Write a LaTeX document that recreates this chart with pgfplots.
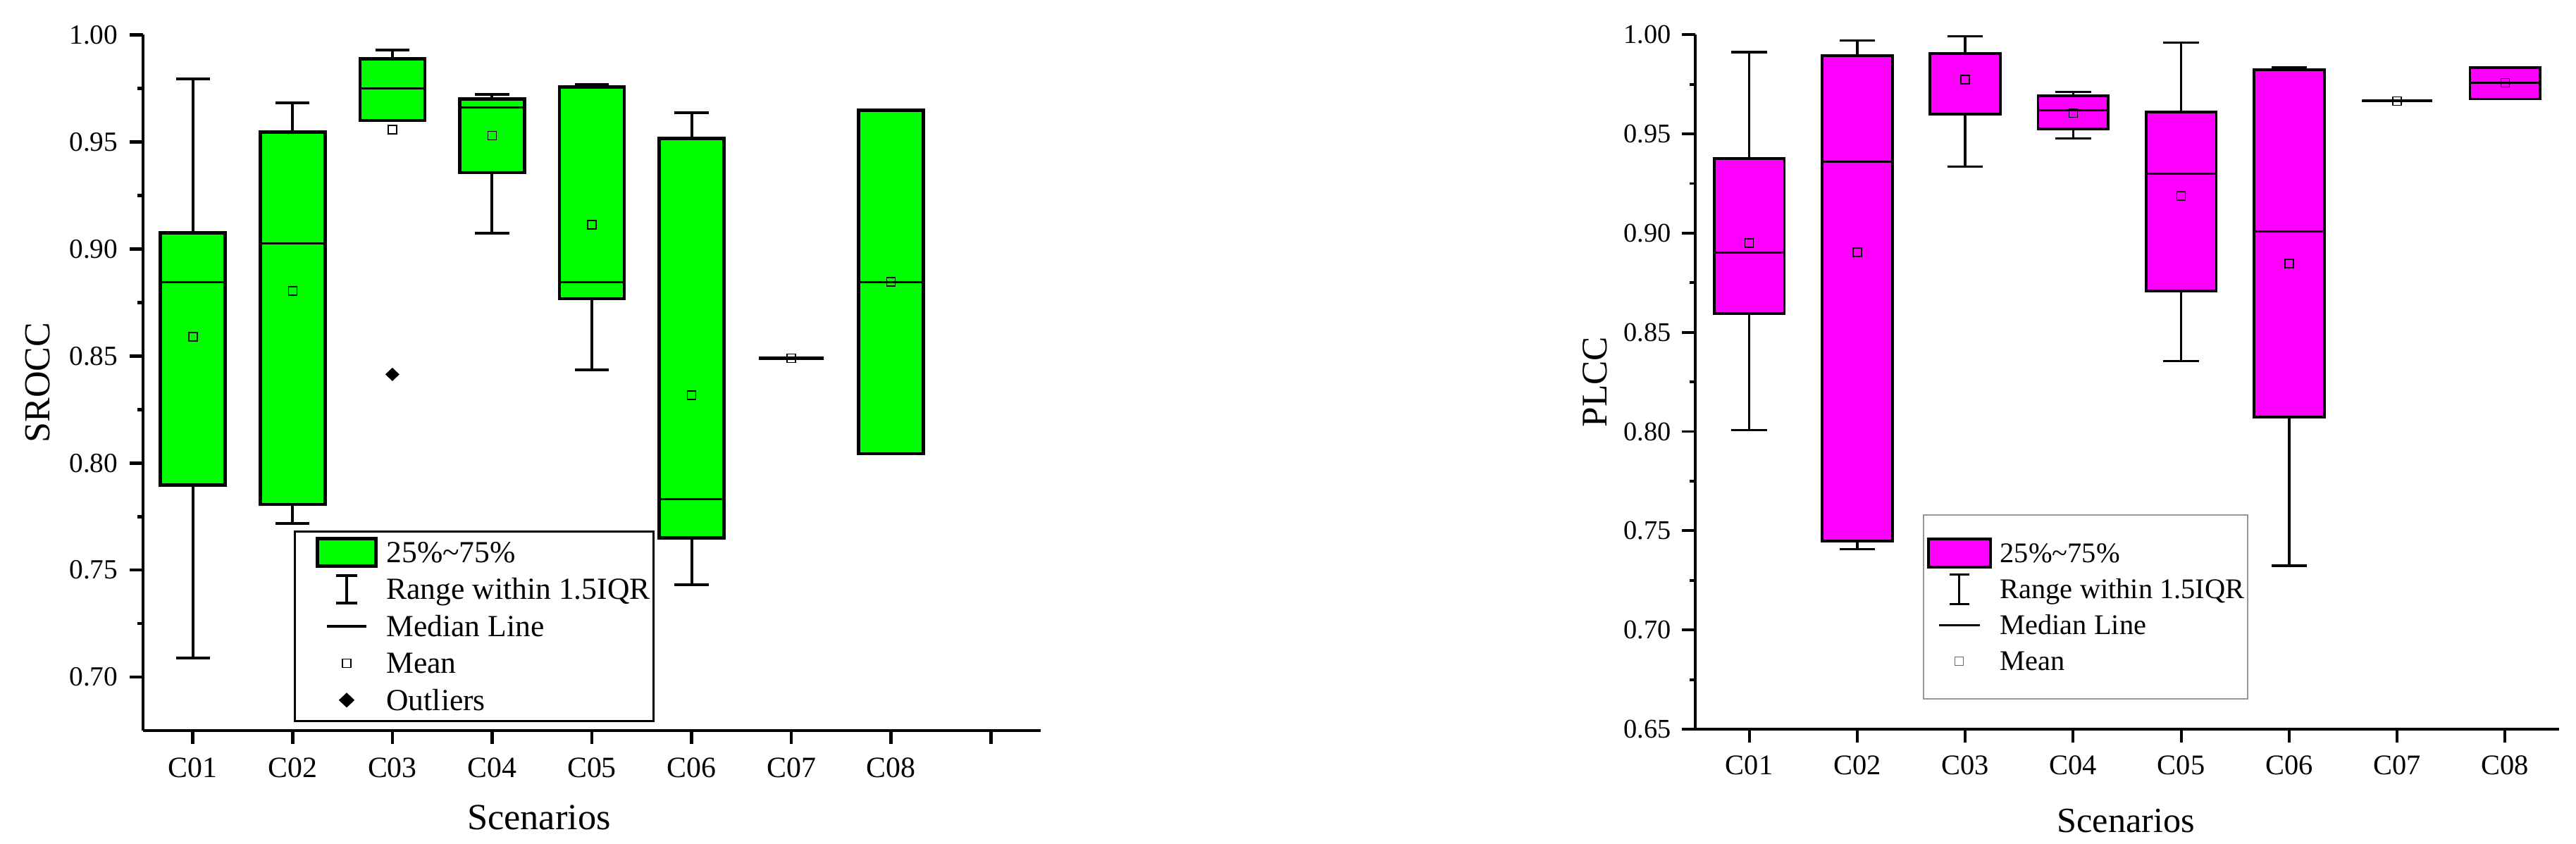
\documentclass[border=0pt]{standalone}
\usepackage{fontspec}
\setmainfont{Liberation Serif}
\usepackage{pgfplots}
\pgfplotsset{compat=1.18}
\usepgfplotslibrary{statistics}
\definecolor{boxgreen}{RGB}{0,255,0}
\definecolor{boxmag}{RGB}{255,0,255}
\definecolor{leggray}{RGB}{150,150,150}
\newcommand{\fs}[1]{\fontsize{#1}{#1}\selectfont}

\begin{document}
\begin{tikzpicture}
\useasboundingbox (0,0) rectangle (365.6mm,119.7mm);

% ---------------- Left: SROCC ----------------
\begin{axis}[
  at={(20.3mm,16.0mm)}, anchor=south west,
  scale only axis, width=127.4mm, height=98.75mm,
  xmin=0.5, xmax=9.5, ymin=0.675, ymax=1.0,
  clip=false,
  axis lines=left, axis line style={-, line width=0.47mm},
  tick align=outside, major tick length=1.9mm, minor tick length=0.8mm,
  every tick/.style={line width=0.47mm, black},
  xtick={1,2,3,4,5,6,7,8,9},
  xticklabels={C01,C02,C03,C04,C05,C06,C07,C08,{}},
  minor xtick={},
  ytick={0.70,0.75,0.80,0.85,0.90,0.95,1.00},
  minor ytick={0.725,0.775,0.825,0.875,0.925,0.975},
  /pgf/number format/assume math mode=true,
  yticklabel style={/pgf/number format/fixed, /pgf/number format/fixed zerofill, /pgf/number format/precision=2, font=\fs{11.2pt}, inner sep=0pt},
  xticklabel style={font=\fs{11.9pt}, inner sep=0pt},
  xticklabel shift=1.9mm, yticklabel shift=1.6mm,
  xlabel={Scenarios}, ylabel={SROCC},
  every axis x label/.style={at={(axis description cs:0.4411,-0.1418)}, anchor=base, inner sep=0pt, font=\fs{14.9pt}},
  every axis y label/.style={at={(axis description cs:-0.1313,0.5)}, rotate=90, anchor=north, inner sep=0pt, font=\fs{14.8pt}},
  boxplot/draw direction=y,
  boxplot/box extend=0.65, boxplot/whisker extend=0.34,
  boxplot/every box/.style={draw=black, line width=0.46mm, fill=boxgreen},
  boxplot/every whisker/.style={black, line width=0.4mm},
  boxplot/every median/.style={black, line width=0.32mm},
  legend cell align=left,
  legend style={at={(axis description cs:0.168,0.2876)}, anchor=north west, draw=black, line width=0.3mm, fill=white,
    inner xsep=0.5mm, inner ysep=0.73mm, row sep=0.85mm,
    nodes={inner sep=0pt, draw=none, text height=3.64mm, text depth=0.76mm, font=\fs{12.4pt}}},
]
\addplot[boxplot prepared={lower whisker=0.7090, lower quartile=0.7897, median=0.8844, upper quartile=0.9075, upper whisker=0.9794, draw position=1}, forget plot] coordinates {};
\addplot[boxplot prepared={lower whisker=0.7719, lower quartile=0.7807, median=0.9027, upper quartile=0.9545, upper whisker=0.9683, draw position=2}, forget plot] coordinates {};
\addplot[boxplot prepared={lower whisker=0.9600, lower quartile=0.9600, median=0.9751, upper quartile=0.9889, upper whisker=0.9929, draw position=3}, mark=diamond*, mark size=0.85mm, mark options={fill=black, draw=black, xscale=1.4}, forget plot] coordinates {(3,0.8414)};
\addplot[boxplot prepared={lower whisker=0.9075, lower quartile=0.9357, median=0.9660, upper quartile=0.9701, upper whisker=0.9721, draw position=4}, forget plot] coordinates {};
\addplot[boxplot prepared={lower whisker=0.8434, lower quartile=0.8768, median=0.8844, upper quartile=0.9756, upper whisker=0.9769, draw position=5}, forget plot] coordinates {};
\addplot[boxplot prepared={lower whisker=0.7432, lower quartile=0.7651, median=0.7832, upper quartile=0.9517, upper whisker=0.9635, draw position=6}, forget plot] coordinates {};
\addplot[boxplot prepared={lower whisker=0.8490, lower quartile=0.8490, median=0.8490, upper quartile=0.8490, upper whisker=0.8490, draw position=7}, forget plot] coordinates {};
\addplot[boxplot prepared={lower whisker=0.8043, lower quartile=0.8043, median=0.8846, upper quartile=0.9648, upper whisker=0.9648, draw position=8}, forget plot] coordinates {};
% means
\addplot[only marks, mark=square, mark size=0.6mm, mark options={draw=black, line width=0.16mm}, forget plot]
  coordinates {(1,0.8590) (2,0.8804) (3,0.9557) (4,0.9530) (5,0.9113) (6,0.8317) (7,0.8490) (8,0.8846)};

\addlegendimage{legend image code/.code={
  \path[draw=none, fill=none] (-6.85mm,-2.2mm) rectangle (5.65mm,2.2mm);
  \draw[line width=0.46mm, draw=black, fill=boxgreen] (-4.15mm,-1.95mm) rectangle (4.15mm,1.95mm);}}
\addlegendentry{25\%\textasciitilde 75\%}
\addlegendimage{legend image code/.code={
  \path[draw=none, fill=none] (-6.85mm,-2.2mm) rectangle (5.65mm,2.2mm);
  \draw[line width=0.4mm, draw=black, fill=none] (0,-1.95mm) -- (0,1.95mm) (-1.5mm,-1.95mm) -- (1.5mm,-1.95mm) (-1.5mm,1.95mm) -- (1.5mm,1.95mm);}}
\addlegendentry{Range within 1.5IQR}
\addlegendimage{legend image code/.code={
  \path[draw=none, fill=none] (-6.85mm,-2.2mm) rectangle (5.65mm,2.2mm);
  \draw[line width=0.42mm, draw=black, fill=none] (-2.8mm,0) -- (2.8mm,0);}}
\addlegendentry{Median Line}
\addlegendimage{legend image code/.code={
  \path[draw=none, fill=none] (-6.85mm,-2.2mm) rectangle (5.65mm,2.2mm);
  \draw[line width=0.16mm, draw=black, fill=none] (-0.6mm,-0.6mm) rectangle (0.6mm,0.6mm);}}
\addlegendentry{Mean}
\addlegendimage{legend image code/.code={
  \path[draw=none, fill=none] (-6.85mm,-2.2mm) rectangle (5.65mm,2.2mm);
  \fill[black] (0,0.85mm) -- (0.9mm,0) -- (0,-0.85mm) -- (-0.9mm,0) -- cycle;}}
\addlegendentry{Outliers}
\end{axis}

% ---------------- Right: PLCC ----------------
\begin{axis}[
  at={(240.6mm,16.2mm)}, anchor=south west,
  scale only axis, width=122.6mm, height=98.57mm,
  xmin=0.5, xmax=8.5, ymin=0.65, ymax=1.0,
  clip=false,
  axis lines=left, axis line style={-, line width=0.38mm},
  tick align=outside, major tick length=1.9mm, minor tick length=0.8mm,
  every tick/.style={line width=0.38mm, black},
  xtick={1,2,3,4,5,6,7,8},
  xticklabels={C01,C02,C03,C04,C05,C06,C07,C08},
  minor xtick={},
  ytick={0.65,0.70,0.75,0.80,0.85,0.90,0.95,1.00},
  minor ytick={0.675,0.725,0.775,0.825,0.875,0.925,0.975},
  /pgf/number format/assume math mode=true,
  yticklabel style={/pgf/number format/fixed, /pgf/number format/fixed zerofill, /pgf/number format/precision=2, font=\fs{10.9pt}, inner sep=0pt},
  xticklabel style={font=\fs{11.5pt}, inner sep=0pt},
  xticklabel shift=1.8mm, yticklabel shift=1.5mm,
  xlabel={Scenarios}, ylabel={PLCC},
  every axis x label/.style={at={(axis description cs:0.4985,-0.1488)}, anchor=base, inner sep=0pt, font=\fs{14.3pt}},
  every axis y label/.style={at={(axis description cs:-0.1308,0.5)}, rotate=90, anchor=north, inner sep=0pt, font=\fs{14.6pt}},
  boxplot/draw direction=y,
  boxplot/box extend=0.65, boxplot/whisker extend=0.33,
  boxplot/every box/.style={draw=black, line width=0.38mm, fill=boxmag},
  boxplot/every whisker/.style={black, line width=0.33mm},
  boxplot/every median/.style={black, line width=0.3mm},
  legend cell align=left,
  legend style={at={(axis description cs:0.2633,0.3094)}, anchor=north west, draw=leggray, line width=0.2mm, fill=white,
    inner xsep=0.4mm, inner ysep=3.2mm, row sep=0.66mm,
    nodes={inner sep=0pt, draw=none, text height=3.54mm, text depth=0.86mm, font=\fs{11.5pt}}},
]
\addplot[boxplot prepared={lower whisker=0.8007, lower quartile=0.8595, median=0.8901, upper quartile=0.9375, upper whisker=0.9912, draw position=1}, forget plot] coordinates {};
\addplot[boxplot prepared={lower whisker=0.7408, lower quartile=0.7448, median=0.9359, upper quartile=0.9896, upper whisker=0.9972, draw position=2}, forget plot] coordinates {};
\addplot[boxplot prepared={lower whisker=0.9335, lower quartile=0.9601, median=0.9904, upper quartile=0.9904, upper whisker=0.9991, draw position=3}, forget plot] coordinates {};
\addplot[boxplot prepared={lower whisker=0.9478, lower quartile=0.9525, median=0.9619, upper quartile=0.9693, upper whisker=0.9712, draw position=4}, forget plot] coordinates {};
\addplot[boxplot prepared={lower whisker=0.8356, lower quartile=0.8709, median=0.9300, upper quartile=0.9611, upper whisker=0.9961, draw position=5}, forget plot] coordinates {};
\addplot[boxplot prepared={lower whisker=0.7324, lower quartile=0.8072, median=0.9010, upper quartile=0.9823, upper whisker=0.9836, draw position=6}, forget plot] coordinates {};
\addplot[boxplot prepared={lower whisker=0.9666, lower quartile=0.9666, median=0.9666, upper quartile=0.9666, upper whisker=0.9666, draw position=7}, forget plot] coordinates {};
\addplot[boxplot prepared={lower whisker=0.9676, lower quartile=0.9676, median=0.9757, upper quartile=0.9833, upper whisker=0.9833, draw position=8}, forget plot] coordinates {};
% means
\addplot[only marks, mark=square, mark size=0.6mm, mark options={draw=black, line width=0.13mm}, forget plot]
  coordinates {(1,0.8950) (2,0.8904) (3,0.9774) (4,0.9606) (5,0.9188) (6,0.8847) (7,0.9666) (8,0.9757)};

\addlegendimage{legend image code/.code={
  \path[draw=none, fill=none] (-4.7mm,-2.2mm) rectangle (5.78mm,2.2mm);
  \draw[line width=0.38mm, draw=black, fill=boxmag] (-4.4mm,-2.0mm) rectangle (4.4mm,2.0mm);}}
\addlegendentry{25\%\textasciitilde 75\%}
\addlegendimage{legend image code/.code={
  \path[draw=none, fill=none] (-4.7mm,-2.2mm) rectangle (5.78mm,2.2mm);
  \draw[line width=0.33mm, draw=black, fill=none] (0,-2.1mm) -- (0,2.1mm) (-1.4mm,-2.1mm) -- (1.4mm,-2.1mm) (-1.4mm,2.1mm) -- (1.4mm,2.1mm);}}
\addlegendentry{Range within 1.5IQR}
\addlegendimage{legend image code/.code={
  \path[draw=none, fill=none] (-4.7mm,-2.2mm) rectangle (5.78mm,2.2mm);
  \draw[line width=0.3mm, draw=black, fill=none] (-2.9mm,0) -- (2.9mm,0);}}
\addlegendentry{Median Line}
\addlegendimage{legend image code/.code={
  \path[draw=none, fill=none] (-4.7mm,-2.2mm) rectangle (5.78mm,2.2mm);
  \draw[line width=0.12mm, draw=black!60, fill=none] (-0.6mm,-0.6mm) rectangle (0.6mm,0.6mm);}}
\addlegendentry{Mean}
\end{axis}
\end{tikzpicture}
\end{document}
